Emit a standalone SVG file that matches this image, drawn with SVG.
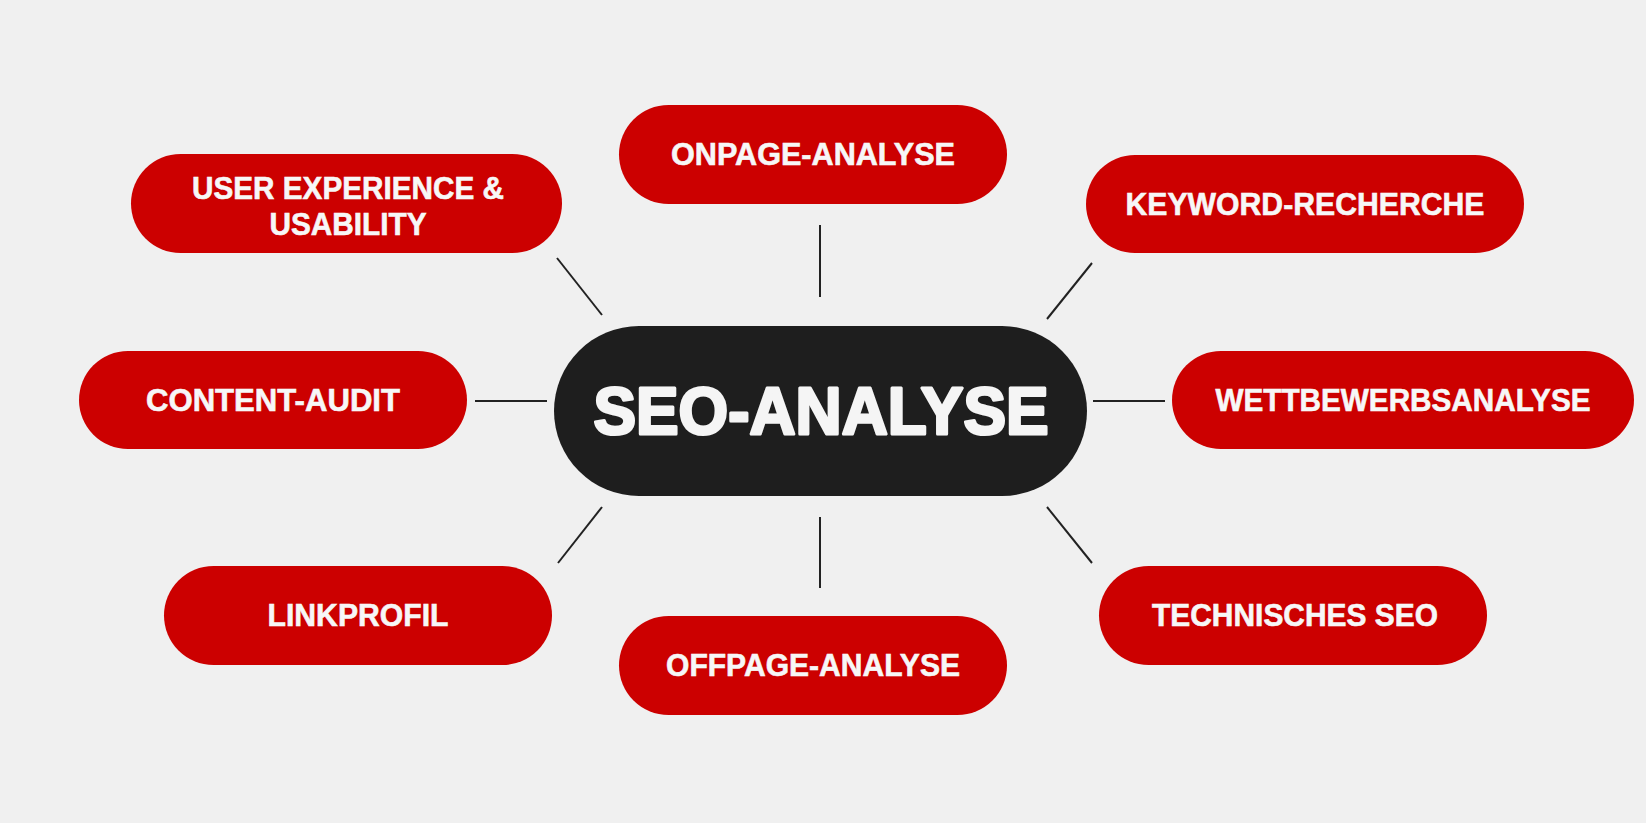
<svg xmlns="http://www.w3.org/2000/svg" width="1646" height="823" viewBox="0 0 1646 823">
  <style>
    .pill { fill: #CC0000; }
    .hub { fill: #1E1E1E; }
    .lbl { font-family: "Liberation Sans", Arial, sans-serif; font-weight: bold; font-size: 31px; fill: #F7F7F7; stroke: #F7F7F7; stroke-width: 0.6; text-anchor: middle; }
    .hubl { font-family: "Liberation Sans", Arial, sans-serif; font-weight: bold; font-size: 66px; fill: #F5F5F5; stroke: #F5F5F5; stroke-width: 3; stroke-linejoin: round; text-anchor: middle; }
    .conn line { stroke: #222222; stroke-width: 2; stroke-linecap: butt; }
  </style>
  <rect x="0" y="0" width="1646" height="823" fill="#F0F0F0"/>

  <g id="connectors" class="conn">
    <line x1="557" y1="258" x2="602" y2="315"/>
    <line x1="820" y1="225" x2="820" y2="297"/>
    <line x1="1092" y1="263" x2="1047" y2="319"/>
    <line x1="475" y1="401" x2="547" y2="401"/>
    <line x1="1093" y1="401" x2="1165" y2="401"/>
    <line x1="602" y1="507" x2="558" y2="563"/>
    <line x1="820" y1="517" x2="820" y2="588"/>
    <line x1="1047" y1="507" x2="1092" y2="563"/>
  </g>

  <g id="seo-analyse">
    <rect class="hub" x="554" y="326" width="533" height="170" rx="85" ry="85"/>
    <text class="hubl" x="821" y="434" textLength="455" lengthAdjust="spacingAndGlyphs">SEO-ANALYSE</text>
  </g>

  <g id="onpage-analyse">
    <rect class="pill" x="619" y="105" width="388" height="99" rx="49.5" ry="49.5"/>
    <text class="lbl" x="813" y="165" textLength="284" lengthAdjust="spacingAndGlyphs">ONPAGE-ANALYSE</text>
  </g>

  <g id="user-experience">
    <rect class="pill" x="131" y="154" width="431" height="99" rx="49.5" ry="49.5"/>
    <text class="lbl" x="348" y="199" textLength="312" lengthAdjust="spacingAndGlyphs">USER EXPERIENCE &amp;</text>
    <text class="lbl" x="348" y="235" textLength="157" lengthAdjust="spacingAndGlyphs">USABILITY</text>
  </g>

  <g id="keyword-recherche">
    <rect class="pill" x="1086" y="155" width="438" height="98" rx="49" ry="49"/>
    <text class="lbl" x="1305" y="215" textLength="359" lengthAdjust="spacingAndGlyphs">KEYWORD-RECHERCHE</text>
  </g>

  <g id="content-audit">
    <rect class="pill" x="79" y="351" width="388" height="98" rx="49" ry="49"/>
    <text class="lbl" x="273" y="411" textLength="254" lengthAdjust="spacingAndGlyphs">CONTENT-AUDIT</text>
  </g>

  <g id="wettbewerbsanalyse">
    <rect class="pill" x="1172" y="351" width="462" height="98" rx="49" ry="49"/>
    <text class="lbl" x="1403" y="411" textLength="375" lengthAdjust="spacingAndGlyphs">WETTBEWERBSANALYSE</text>
  </g>

  <g id="linkprofil">
    <rect class="pill" x="164" y="566" width="388" height="99" rx="49.5" ry="49.5"/>
    <text class="lbl" x="358" y="626" textLength="181" lengthAdjust="spacingAndGlyphs">LINKPROFIL</text>
  </g>

  <g id="offpage-analyse">
    <rect class="pill" x="619" y="616" width="388" height="99" rx="49.5" ry="49.5"/>
    <text class="lbl" x="813" y="676" textLength="294" lengthAdjust="spacingAndGlyphs">OFFPAGE-ANALYSE</text>
  </g>

  <g id="technisches-seo">
    <rect class="pill" x="1099" y="566" width="388" height="99" rx="49.5" ry="49.5"/>
    <text class="lbl" x="1295" y="626" textLength="286" lengthAdjust="spacingAndGlyphs">TECHNISCHES SEO</text>
  </g>
</svg>
